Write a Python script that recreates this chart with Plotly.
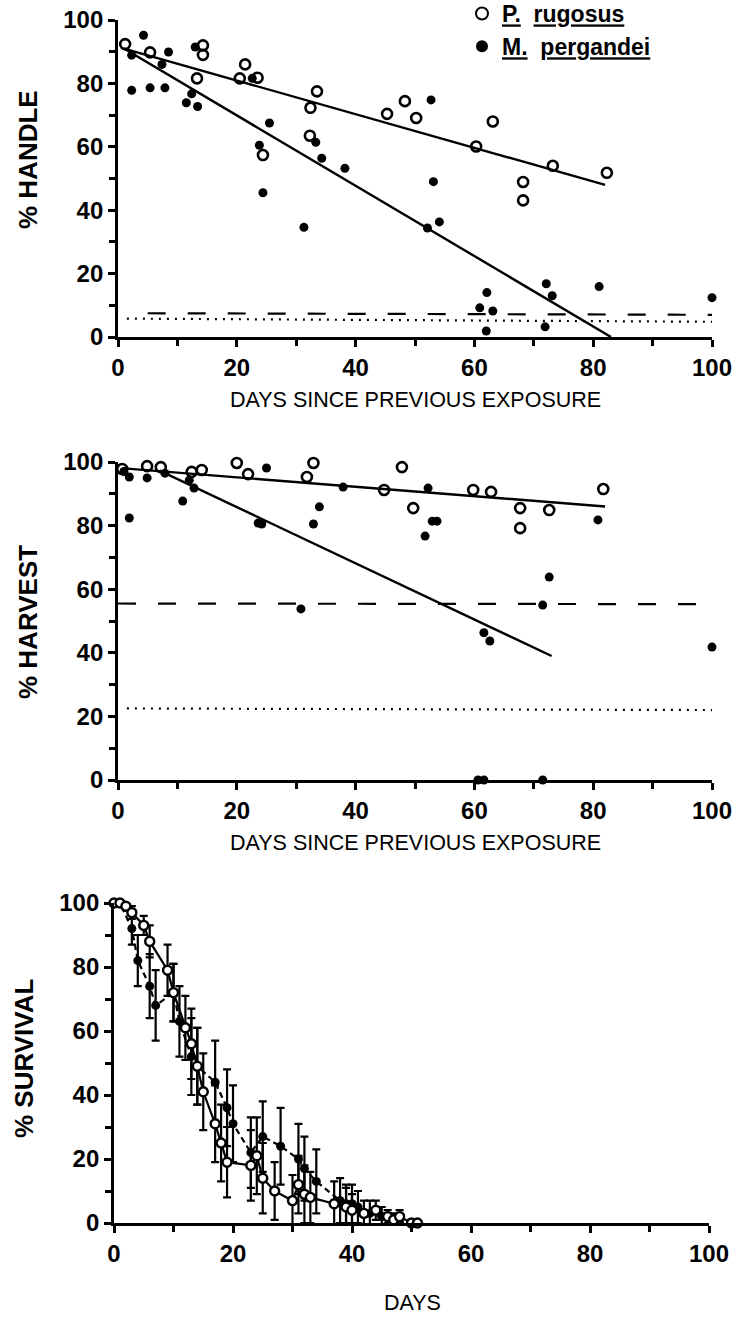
import plotly.graph_objects as go

# ---------------- DATA ----------------
# Panel 1: % HANDLE vs days since previous exposure
handle_pr_x = [1.2, 5.4, 14.3, 14.3, 13.3, 21.4, 20.5, 23.5, 24.4, 32.4, 32.3, 33.5, 45.3, 48.3, 50.2, 60.3, 63.1, 68.2, 68.2, 73.2, 82.3]
handle_pr_y = [92.4, 89.8, 92.0, 89.0, 81.6, 86.0, 81.6, 81.8, 57.4, 72.3, 63.5, 77.5, 70.4, 74.4, 69.1, 60.1, 68.0, 48.9, 43.1, 54.0, 51.8]
handle_mp_x = [2.3, 2.3, 4.3, 5.4, 7.4, 7.9, 8.5, 11.5, 12.4, 13.0, 13.4, 22.6, 23.8, 24.4, 25.5, 31.3, 33.3, 34.3, 38.2, 52.1, 52.7, 53.1, 54.1, 60.9, 62.0, 62.1, 63.1, 71.9, 72.1, 73.1, 81.0, 100.0]
handle_mp_y = [88.9, 77.8, 95.2, 78.6, 86.0, 78.6, 89.9, 73.9, 76.7, 91.5, 72.7, 81.6, 60.5, 45.5, 67.5, 34.6, 61.4, 56.4, 53.2, 34.4, 74.8, 49.0, 36.3, 9.2, 1.9, 14.0, 8.2, 3.2, 16.8, 13.0, 15.9, 12.4]
handle_fit_pr_x = [1, 82]
handle_fit_pr_y = [91, 48]
handle_fit_mp_x = [1, 83]
handle_fit_mp_y = [91, 0]
handle_dash_x = [5, 100]
handle_dash_y = [7.5, 7.0]
handle_dot_x = [1.5, 100]
handle_dot_y = [5.8, 4.8]

# Panel 2: % HARVEST vs days since previous exposure
harvest_pr_x = [0.7, 4.9, 7.2, 12.4, 14.1, 20.0, 21.9, 31.8, 32.9, 44.8, 47.8, 49.7, 59.8, 62.8, 67.7, 67.7, 72.6, 81.7]
harvest_pr_y = [97.8, 98.7, 98.4, 96.9, 97.5, 99.7, 96.2, 95.3, 99.7, 91.2, 98.4, 85.5, 91.2, 90.6, 85.5, 79.2, 84.9, 91.5]
harvest_mp_x = [1.0, 1.9, 1.9, 4.9, 7.9, 10.9, 12.0, 12.8, 23.6, 24.2, 25.0, 30.8, 32.9, 33.9, 37.9, 51.7, 52.2, 52.9, 53.7, 60.6, 61.6, 61.6, 62.6, 71.5, 71.5, 72.6, 80.8, 100.0]
harvest_mp_y = [97.0, 95.3, 82.4, 95.0, 96.5, 87.7, 94.3, 91.8, 80.8, 80.5, 98.1, 53.8, 80.5, 85.9, 92.1, 76.7, 91.8, 81.4, 81.4, 0, 0, 46.3, 43.7, 55.0, 0, 63.8, 81.8, 41.8]
harvest_fit_pr_x = [1, 82]
harvest_fit_pr_y = [98, 86]
harvest_fit_mp_x = [7, 73]
harvest_fit_mp_y = [97.3, 39]
harvest_dash_x = [0, 100]
harvest_dash_y = [55.5, 55.3]
harvest_dot_x = [1.5, 100]
harvest_dot_y = [22.5, 22.0]

# Panel 3: % SURVIVAL vs days
surv_pr_days = [0, 1, 2, 3, 5, 6, 9, 10, 12, 13, 14, 15, 17, 18, 19, 23, 24, 25, 27, 30, 31, 32, 33, 37, 39, 40, 42, 44, 46, 47, 48, 50, 51]
surv_pr = [100, 100, 99, 97, 93, 88, 79, 72, 61, 56, 49, 41, 31, 25, 19, 18, 21, 14, 10, 7, 12, 9, 8, 6, 5, 4, 3, 4, 2, 1, 2, 0, 0]
surv_pr_err = [0, 0, 1, 2, 3, 5, 8, 9, 10, 11, 12, 12, 12, 12, 11, 11, 12, 11, 9, 8, 9, 9, 8, 7, 6, 5, 4, 3, 2, 2, 2, 0, 0]
surv_mp_days = [0, 1, 3, 4, 6, 7, 10, 11, 13, 14, 17, 19, 20, 23, 25, 28, 31, 32, 34, 38, 39, 40, 41, 43, 45, 48, 50, 51]
surv_mp = [100, 100, 92, 82, 74, 68, 72, 63, 52, 49, 44, 36, 31, 22, 27, 24, 20, 17, 13, 7, 6, 6, 5, 3, 2, 1, 0, 0]
surv_mp_err = [0, 0, 5, 8, 10, 11, 9, 11, 12, 12, 13, 12, 12, 11, 11, 12, 11, 10, 10, 7, 6, 6, 5, 4, 3, 1, 0, 0]

x_ticks = [0, 20, 40, 60, 80, 100]
y_ticks = [0, 20, 40, 60, 80, 100]
legend_names = ["<u>P.</u>  <u>rugosus</u>", "<u>M.</u>  <u>pergandei</u>"]
titles = {"handle": "% HANDLE", "harvest": "% HARVEST", "survival": "% SURVIVAL",
          "xdays_prev": "DAYS SINCE PREVIOUS EXPOSURE", "xdays": "DAYS"}

# ---------------- FIGURE ----------------
W, H = 739, 1317
FONT = "Liberation Sans, Arial, sans-serif"
BLACK = "black"

fig = go.Figure()

open_marker = dict(symbol="circle-open", size=10, color=BLACK, line=dict(width=2.6, color=BLACK))
fill_marker = dict(symbol="circle", size=9, color=BLACK, line=dict(width=0))


def add_panel(ax, prx, pry, mpx, mpy, fprx, fpry, fmpx, fmpy, dx, dy, ox, oy, legend):
    xa, ya = ("x" if ax == 1 else f"x{ax}"), ("y" if ax == 1 else f"y{ax}")
    fig.add_trace(go.Scatter(x=fprx, y=fpry, mode="lines", line=dict(color=BLACK, width=2.4),
                             xaxis=xa, yaxis=ya, showlegend=False, cliponaxis=False, hoverinfo="skip"))
    fig.add_trace(go.Scatter(x=fmpx, y=fmpy, mode="lines", line=dict(color=BLACK, width=2.4),
                             xaxis=xa, yaxis=ya, showlegend=False, cliponaxis=False, hoverinfo="skip"))
    fig.add_trace(go.Scatter(x=dx, y=dy, mode="lines", line=dict(color=BLACK, width=2.2, dash="18px,22px"),
                             xaxis=xa, yaxis=ya, showlegend=False, cliponaxis=False, hoverinfo="skip"))
    fig.add_trace(go.Scatter(x=ox, y=oy, mode="lines", line=dict(color=BLACK, width=2.2, dash="2px,6px"),
                             xaxis=xa, yaxis=ya, showlegend=False, cliponaxis=False, hoverinfo="skip"))
    fig.add_trace(go.Scatter(x=prx, y=pry, mode="markers", marker=open_marker, name=legend_names[0],
                             legendgroup="a", xaxis=xa, yaxis=ya, showlegend=legend, cliponaxis=False))
    fig.add_trace(go.Scatter(x=mpx, y=mpy, mode="markers", marker=fill_marker, name=legend_names[1],
                             legendgroup="b", xaxis=xa, yaxis=ya, showlegend=legend, cliponaxis=False))


add_panel(1, handle_pr_x, handle_pr_y, handle_mp_x, handle_mp_y,
          handle_fit_pr_x, handle_fit_pr_y, handle_fit_mp_x, handle_fit_mp_y,
          handle_dash_x, handle_dash_y, handle_dot_x, handle_dot_y, True)
add_panel(2, harvest_pr_x, harvest_pr_y, harvest_mp_x, harvest_mp_y,
          harvest_fit_pr_x, harvest_fit_pr_y, harvest_fit_mp_x, harvest_fit_mp_y,
          harvest_dash_x, harvest_dash_y, harvest_dot_x, harvest_dot_y, False)

# survival panel
fig.add_trace(go.Scatter(x=surv_mp_days, y=surv_mp, mode="lines+markers",
                         line=dict(color=BLACK, width=2.2, dash="6px,4px"),
                         marker=dict(symbol="circle", size=9, color=BLACK),
                         error_y=dict(type="data", array=surv_mp_err, color=BLACK, thickness=2.2, width=4),
                         xaxis="x3", yaxis="y3", showlegend=False, cliponaxis=False))
fig.add_trace(go.Scatter(x=surv_pr_days, y=surv_pr, mode="lines+markers",
                         line=dict(color=BLACK, width=2.2),
                         marker=dict(symbol="circle", size=9, color="white", line=dict(width=2.4, color=BLACK)),
                         error_y=dict(type="data", array=surv_pr_err, color=BLACK, thickness=2.2, width=4),
                         xaxis="x3", yaxis="y3", showlegend=False, cliponaxis=False))


def px_dom(a, b):
    return [a / W, b / W]


def py_dom(top, bottom):
    return [1 - bottom / H, 1 - top / H]


tickfont = dict(family=FONT, size=24, color=BLACK, weight="bold")


def xaxis(dom, anchor):
    return dict(domain=dom, anchor=anchor, range=[0, 100], tickvals=x_ticks, ticks="outside",
                ticklen=7, tickwidth=2.5, tickcolor=BLACK, showline=True, linecolor=BLACK, linewidth=2.8,
                showgrid=False, zeroline=False, tickfont=tickfont, ticklabelstandoff=0, automargin=False,
                minor=dict(dtick=10, tick0=0, ticks="outside", ticklen=6, tickwidth=2.5, tickcolor=BLACK, showgrid=False))


def yaxis(dom, anchor):
    return dict(domain=dom, anchor=anchor, range=[0, 100], tickvals=y_ticks, ticks="outside",
                ticklen=7, tickwidth=2.5, tickcolor=BLACK, showline=True, linecolor=BLACK, linewidth=2.8,
                showgrid=False, zeroline=False, tickfont=tickfont, ticklabelstandoff=0, automargin=False,
                minor=dict(dtick=10, tick0=0, ticks="outside", ticklen=6, tickwidth=2.5, tickcolor=BLACK, showgrid=False))


fig.update_layout(
    width=W, height=H,
    margin=dict(l=0, r=0, t=0, b=0, pad=0, autoexpand=False),
    paper_bgcolor="white", plot_bgcolor="white",
    xaxis=xaxis(px_dom(118, 712), "y"),
    yaxis=yaxis(py_dom(20, 337), "x"),
    xaxis2=xaxis(px_dom(118, 712), "y2"),
    yaxis2=yaxis(py_dom(462, 780), "x2"),
    xaxis3=xaxis(px_dom(114, 709), "y3"),
    yaxis3=yaxis(py_dom(903, 1223), "x3"),
    legend=dict(x=462 / W, y=1 + 8 / H, xanchor="left", yanchor="top", bgcolor="rgba(0,0,0,0)",
                font=dict(family=FONT, size=23, color=BLACK, weight="bold"),
                tracegroupgap=0, itemsizing="constant"),
    showlegend=True,
)

ytitle_font = dict(family=FONT, size=26, color=BLACK, weight="bold")
xtitle_font = dict(family=FONT, size=21.5, color=BLACK)
ann = [
    (titles["handle"], 28, 160, -90, ytitle_font),
    (titles["harvest"], 28, 622, -90, ytitle_font),
    (titles["survival"], 24, 1058, -90, ytitle_font),
    (titles["xdays_prev"], 415, 400, 0, xtitle_font),
    (titles["xdays_prev"], 415, 843, 0, xtitle_font),
    (titles["xdays"], 412, 1303, 0, xtitle_font),
]
for text, x, y, ang, f in ann:
    fig.add_annotation(text=text, x=x / W, y=1 - y / H, xref="paper", yref="paper",
                       showarrow=False, textangle=ang, font=f,
                       xanchor="center", yanchor="middle")

fig.write_html("out.html", config={"displayModeBar": False},
               post_script="document.body.style.margin='0px';document.body.style.overflow='hidden';")
